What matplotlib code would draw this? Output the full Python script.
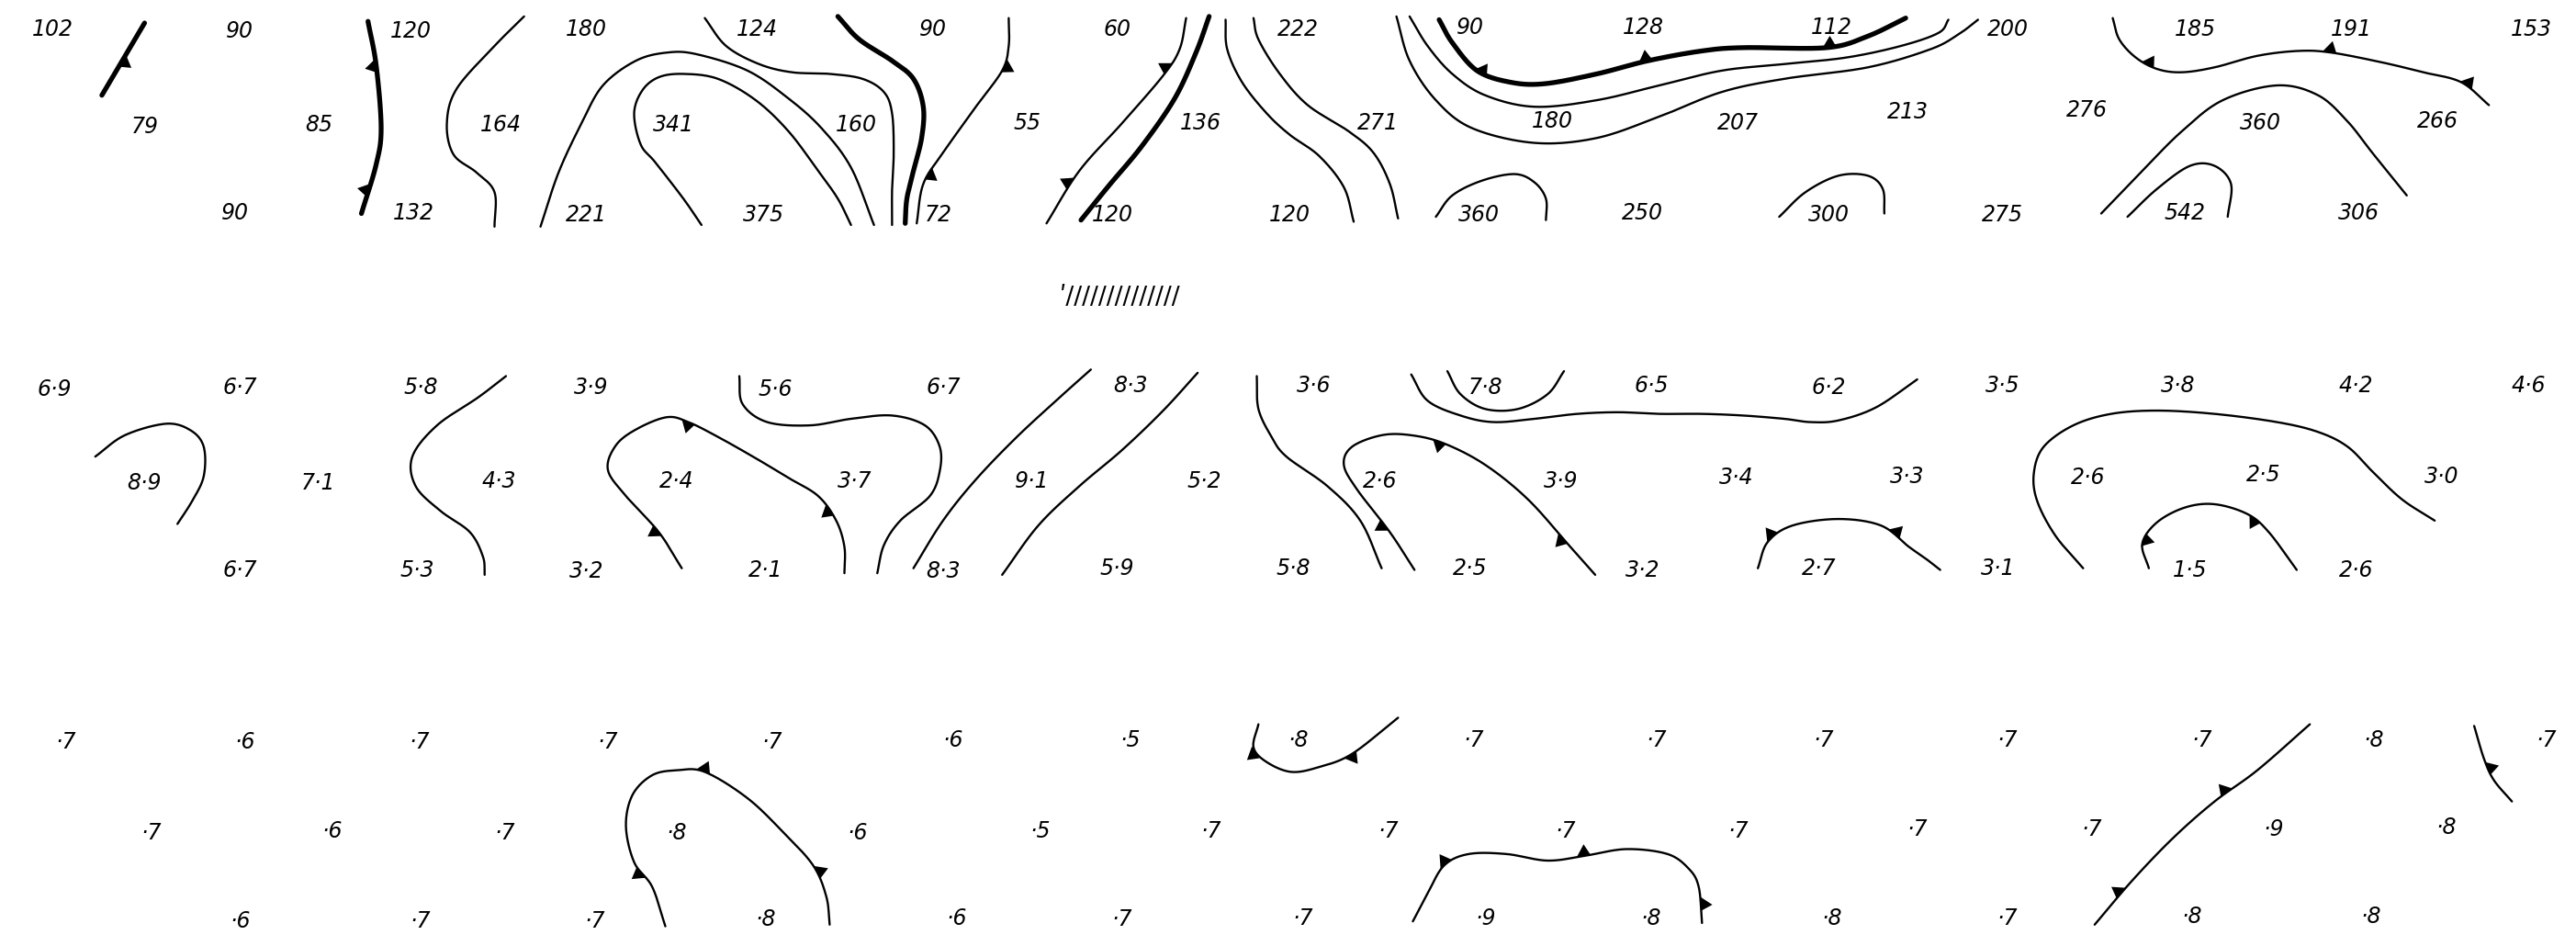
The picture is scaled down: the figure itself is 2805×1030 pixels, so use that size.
import numpy as np
import matplotlib
matplotlib.use("Agg")
import matplotlib.pyplot as plt
from matplotlib.patches import Polygon

# ---------------- DATA ----------------
# Top panel station values
top_labels = ["102", "90", "120", "180", "124", "90", "60", "222", "90", "128", "112", "200", "185", "191", "153",
              "79", "85", "164", "341", "160", "55", "136", "271", "180", "207", "213", "276", "360", "266",
              "90", "132", "221", "375", "72", "120", "120", "360", "250", "300", "275", "542", "306"]
top_x = [32, 146, 250, 357, 461, 568, 680, 790, 895, 1000, 1115, 1222, 1336, 1431, 1541,
         88, 194, 305, 410, 521, 625, 731, 839, 945, 1058, 1161, 1270, 1376, 1484,
         143, 252, 357, 465, 571, 677, 785, 900, 1000, 1113, 1219, 1330, 1436]
top_y = [18, 19, 19, 18, 18, 18, 18, 18, 17, 17, 17, 18, 18, 18, 18,
         77, 76, 76, 76, 76, 75, 75, 75, 74, 75, 68, 67, 75, 74,
         130, 130, 131, 131, 131, 131, 131, 131, 130, 131, 131, 130, 130]

# Middle panel station values
mid_labels = ["6·9", "6·7", "5·8", "3·9", "5·6", "6·7", "8·3", "3·6", "7·8", "6·5", "6·2", "3·5", "3·8", "4·2", "4·6",
              "8·9", "7·1", "4·3", "2·4", "3·7", "9·1", "5·2", "2·6", "3·9", "3·4", "3·3", "2·6", "2·5", "3·0",
              "6·7", "5·3", "3·2", "2·1", "8·3", "5·9", "5·8", "2·5", "3·2", "2·7", "3·1", "1·5", "2·6"]
mid_x = [33, 146, 256, 360, 472, 574, 688, 800, 904, 1005, 1113, 1219, 1326, 1434, 1539,
         88, 194, 304, 412, 520, 628, 733, 840, 950, 1057, 1161, 1271, 1378, 1486,
         146, 254, 357, 466, 574, 680, 787, 895, 1000, 1107, 1216, 1333, 1434]
mid_y = [237, 236, 236, 236, 237, 236, 235, 235, 236, 235, 236, 235, 235, 235, 235,
         294, 294, 293, 293, 293, 293, 293, 293, 293, 291, 290, 291, 289, 290,
         347, 347, 348, 347, 348, 346, 346, 346, 347, 346, 346, 347, 347]

# Bottom panel station values
bot_labels = ["·7", "·6", "·7", "·7", "·7", "·6", "·5", "·8", "·7", "·7", "·7", "·7", "·7", "·8", "·7",
              "·7", "·6", "·7", "·8", "·6", "·5", "·7", "·7", "·7", "·7", "·7", "·7", "·9", "·8",
              "·6", "·7", "·7", "·8", "·6", "·7", "·7", "·9", "·8", "·8", "·7", "·8", "·8"]
bot_x = [40, 149, 255, 370, 470, 580, 688, 790, 897, 1008, 1110, 1222, 1340, 1445, 1550,
         92, 202, 307, 412, 522, 633, 737, 845, 953, 1058, 1167, 1273, 1384, 1489,
         146, 256, 362, 466, 582, 683, 793, 904, 1005, 1115, 1222, 1334, 1443]
bot_y = [452, 452, 452, 452, 452, 451, 451, 451, 451, 451, 451, 451, 451, 451, 451,
         507, 506, 507, 507, 507, 506, 506, 506, 506, 506, 505, 505, 505, 504,
         561, 561, 561, 560, 559, 560, 559, 559, 559, 559, 559, 558, 558]

# Isolines / fronts (traced points)
top_line1 = [(88, 14), (75, 36), (62, 58)]
top_line2 = [(224, 13), (229, 40), (232, 78), (229, 100), (220, 130)]
top_line3 = [(319, 10), (301, 28), (278, 54), (272, 75), (276, 94), (290, 105), (301, 117), (301, 138)]
top_line4 = [(329, 138), (340, 105), (354, 75), (367, 52), (387, 37), (406, 32), (424, 33), (455, 43),
             (480, 60), (500, 78), (518, 102), (532, 137)]
top_line5 = [(427, 137), (416, 121), (399, 99), (390, 88), (386, 69), (391, 55), (401, 47), (416, 45),
             (437, 48), (460, 61), (480, 80), (498, 104), (510, 121), (518, 137)]
top_line6 = [(429, 11), (442, 28), (462, 39), (482, 44), (505, 45), (525, 48), (538, 56), (543, 69),
             (544, 93), (543, 115), (543, 137)]
top_line7 = [(510, 10), (523, 24), (543, 37), (556, 48), (562, 65), (561, 84), (556, 104), (552, 121), (551, 136)]
top_line8 = [(614, 11), (614, 28), (610, 43), (594, 65), (574, 93), (562, 112), (558, 136)]
top_line9 = [(722, 11), (718, 30), (708, 46), (683, 75), (657, 104), (637, 136)]
top_line10 = [(736, 10), (728, 32), (715, 60), (695, 89), (675, 113), (658, 134)]
top_line11 = [(746, 12), (747, 30), (756, 50), (771, 69), (785, 82), (803, 95), (818, 114), (824, 135)]
top_line12 = [(763, 11), (766, 24), (779, 45), (796, 64), (821, 80), (836, 93), (846, 112), (851, 133)]
top_line13 = [(876, 12), (884, 26), (899, 43), (919, 50), (940, 51), (972, 45), (1003, 37), (1036, 31),
              (1061, 29), (1112, 29), (1137, 22), (1160, 11)]
top_line14 = [(858, 10), (869, 28), (884, 45), (904, 58), (934, 65), (972, 61), (1010, 52), (1048, 43),
              (1086, 39), (1124, 35), (1157, 28), (1180, 20), (1186, 12)]
top_line15 = [(850, 10), (858, 37), (874, 61), (896, 78), (934, 87), (972, 84), (1010, 71), (1048, 56),
              (1086, 48), (1137, 41), (1175, 30), (1192, 21), (1204, 12)]
top_line16 = [(874, 132), (884, 119), (902, 110), (922, 106), (934, 111), (941, 121), (941, 134)]
top_line17 = [(1083, 132), (1099, 117), (1119, 107), (1137, 107), (1146, 115), (1147, 130)]
top_line18 = [(1286, 11), (1290, 24), (1300, 35), (1313, 42), (1328, 44), (1348, 41), (1374, 34),
              (1399, 31), (1419, 32), (1450, 38), (1475, 44), (1498, 50), (1515, 64)]
top_line19 = [(1279, 130), (1304, 104), (1328, 80), (1353, 61), (1386, 52), (1411, 58), (1429, 74),
              (1444, 93), (1465, 119)]
top_line20 = [(1295, 132), (1313, 115), (1333, 101), (1348, 101), (1358, 112), (1356, 132)]

mid_line1 = [(58, 278), (76, 265), (101, 258), (116, 262), (124, 272), (124, 290), (117, 305), (108, 319)]
mid_line2 = [(308, 229), (291, 242), (266, 259), (251, 278), (253, 296), (268, 311), (286, 324), (294, 339), (295, 350)]
mid_line3 = [(415, 346), (401, 324), (381, 302), (370, 286), (375, 271), (388, 261),
             (406, 254), (419, 257), (437, 266), (460, 279), (480, 291), (498, 302), (509, 317), (514, 333), (514, 349)]
mid_line4 = [(450, 229), (452, 246), (467, 257), (493, 259), (518, 255), (543, 253), (563, 259), (572, 272),
             (572, 287), (566, 302), (548, 317), (538, 332), (534, 349)]
mid_line5 = [(664, 225), (645, 242), (619, 266), (594, 292), (574, 317), (556, 346)]
mid_line6 = [(729, 227), (708, 250), (683, 274), (657, 296), (632, 320), (610, 350)]
mid_line7 = [(765, 229), (766, 249), (774, 266), (783, 278), (808, 296), (828, 317), (841, 346)]
mid_line8 = [(861, 347), (846, 324), (826, 298), (818, 283), (823, 272), (841, 265), (859, 265), (879, 270),
             (904, 283), (930, 304), (955, 332), (971, 350)]
mid_line9 = [(881, 226), (889, 240), (904, 249), (924, 249), (942, 240), (952, 226)]
mid_line10 = [(859, 228), (869, 244), (889, 253), (909, 257), (934, 255), (960, 252), (985, 251), (1010, 252),
              (1036, 252), (1061, 253), (1086, 255), (1102, 257), (1119, 256), (1142, 248), (1167, 231)]
mid_line11 = [(1070, 346), (1076, 330), (1091, 320), (1119, 316), (1145, 320), (1162, 333), (1172, 340), (1181, 347)]
mid_line12 = [(1268, 346), (1251, 326), (1240, 305), (1238, 288), (1244, 272), (1262, 259), (1285, 252),
              (1313, 250), (1348, 252), (1386, 257), (1411, 263), (1429, 272), (1444, 287), (1462, 304), (1482, 317)]
mid_line13 = [(1308, 346), (1304, 331), (1313, 318), (1330, 309), (1348, 307), (1368, 313), (1381, 324), (1398, 347)]

bot_line1 = [(405, 564), (397, 540), (386, 525), (381, 503), (385, 484), (397, 472), (412, 469), (429, 470),
             (455, 486), (477, 507), (495, 527), (503, 546), (505, 563)]
bot_line2 = [(766, 441), (763, 455), (771, 464), (786, 470), (803, 467), (823, 459), (851, 437)]
bot_line3 = [(860, 561), (869, 544), (879, 527), (894, 520), (917, 520), (942, 524), (965, 521), (990, 517),
             (1015, 520), (1028, 529), (1034, 540), (1036, 562)]
bot_line4 = [(1406, 441), (1374, 469), (1348, 488), (1323, 510), (1298, 536), (1275, 563)]
bot_line5 = [(1506, 442), (1512, 462), (1518, 475), (1529, 488)]

# ---------------- DRAWING ----------------
W, H = 1568, 576
fig = plt.figure(figsize=(28.05, 10.30), dpi=100)
ax = fig.add_axes([0, 0, 1, 1])
ax.set_xlim(0, W)
ax.set_ylim(H, 0)
ax.axis("off")
fig.patch.set_facecolor("white")


def smooth(pts, n=24):
    P = np.asarray(pts, float)
    if len(P) < 3:
        return P
    P = np.vstack([2 * P[0] - P[1], P, 2 * P[-1] - P[-2]])
    out = []
    t = np.linspace(0, 1, n, endpoint=False)[:, None]
    for i in range(1, len(P) - 2):
        p0, p1, p2, p3 = P[i - 1], P[i], P[i + 1], P[i + 2]
        out.append(0.5 * ((2 * p1) + (-p0 + p2) * t + (2 * p0 - 5 * p1 + 4 * p2 - p3) * t ** 2
                          + (-p0 + 3 * p1 - 3 * p2 + p3) * t ** 3))
    out.append(P[-2][None])
    return np.vstack(out)


DIRS = {"up": (0, -1), "down": (0, 1), "left": (-1, 0), "right": (1, 0)}


def draw(pts, lw=1.7, tris=()):
    c = smooth(pts)
    ax.plot(c[:, 0], c[:, 1], color="black", lw=lw, solid_capstyle="round", solid_joinstyle="round")
    for (px, py, side) in tris:
        d = np.hypot(c[:, 0] - px, c[:, 1] - py)
        i = int(np.clip(np.argmin(d), 1, len(c) - 2))
        tg = c[i + 1] - c[i - 1]
        tg = tg / np.hypot(*tg)
        nm = np.array([-tg[1], tg[0]])
        if np.dot(nm, DIRS[side]) < 0:
            nm = -nm
        p = c[i]
        b, h = 8.5, 7.0
        poly = [p - tg * b / 2, p + tg * b / 2, p + tg * 1.0 + nm * h]
        ax.add_patch(Polygon(poly, closed=True, color="black", lw=0))


THIN, THICK = 1.7, 3.8
draw(top_line1, THICK, [(75, 37, "right")])
draw(top_line2, THICK, [(229, 40, "left"), (221, 115, "left")])
draw(top_line3, THIN)
draw(top_line4, THIN)
draw(top_line5, THIN)
draw(top_line6, THIN)
draw(top_line7, THICK)
draw(top_line8, THIN, [(612, 40, "right"), (566, 106, "right")])
draw(top_line9, THIN, [(709, 40, "left"), (651, 112, "left")])
draw(top_line10, THICK)
draw(top_line11, THIN)
draw(top_line12, THIN)
draw(top_line13, THICK, [(903, 42, "up"), (1002, 36, "up"), (1113, 28, "up")])
draw(top_line14, THIN)
draw(top_line15, THIN)
draw(top_line16, THIN)
draw(top_line17, THIN)
draw(top_line18, THIN, [(1308, 38, "up"), (1418, 31, "up"), (1501, 52, "up")])
draw(top_line19, THIN)
draw(top_line20, THIN)

draw(mid_line1, THIN)
draw(mid_line2, THIN)
draw(mid_line3, THIN, [(419, 257, "down"), (400, 323, "left"), (505, 311, "left")])
draw(mid_line4, THIN)
draw(mid_line5, THIN)
draw(mid_line6, THIN)
draw(mid_line7, THIN)
draw(mid_line8, THIN, [(876, 271, "down"), (844, 319, "left"), (951, 328, "left")])
draw(mid_line9, THIN)
draw(mid_line10, THIN)
draw(mid_line11, THIN, [(1080, 328, "up"), (1153, 325, "up")])
draw(mid_line12, THIN)
draw(mid_line13, THIN, [(1306, 329, "right"), (1372, 317, "down")])

draw(bot_line1, THIN, [(389, 532, "left"), (428, 470, "up"), (498, 531, "right")])
draw(bot_line2, THIN, [(764, 458, "left"), (822, 460, "down")])
draw(bot_line3, THIN, [(880, 526, "up"), (964, 520, "up"), (1035, 550, "right")])
draw(bot_line4, THIN, [(1355, 481, "left"), (1290, 542, "left")])
draw(bot_line5, THIN, [(1516, 467, "right")])

FS = 17
for labels, xs, ys in ((top_labels, top_x, top_y), (mid_labels, mid_x, mid_y), (bot_labels, bot_x, bot_y)):
    for s, x, y in zip(labels, xs, ys):
        ax.text(x, y, s, ha="center", va="center", fontsize=FS, fontstyle="italic",
                family="DejaVu Sans", color="black")

# hatched mark
ax.text(682, 181, "ʹ//////////////", ha="center", va="center", fontsize=19, family="DejaVu Sans",
        color="black")

fig.savefig("out.png", dpi=100, facecolor="white")
